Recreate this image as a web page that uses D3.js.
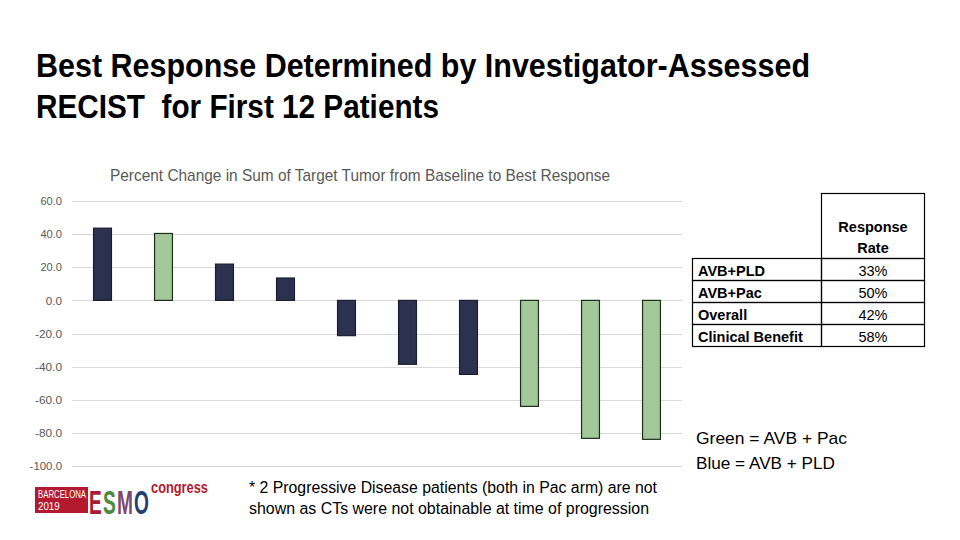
<!DOCTYPE html>
<html>
<head>
<meta charset="utf-8">
<script src="https://cdn.jsdelivr.net/npm/d3@7"></script>
<style>
  html, body { margin: 0; padding: 0; background: #fff; }
  svg { display: block; }
  .narrow { font-family: "Liberation Sans Narrow", "Arial Narrow", "Liberation Sans", Arial, sans-serif; }
  .sans { font-family: "Liberation Sans", Arial, sans-serif; }
</style>
</head>
<body>
<svg id="chart" width="960" height="540"></svg>
<script>
// ---------- data ----------
const patients = ["P1","P2","P3","P4","P5","P6","P7","P8","P9","P10"];
const arms = ["PLD","Pac","PLD","PLD","PLD","PLD","PLD","Pac","Pac","Pac"];
const pctChange = [43.6, 40.4, 21.9, 13.5, -21.3, -38.6, -44.7, -64.0, -83.3, -83.9];
const yTicks = [60, 40, 20, 0, -20, -40, -60, -80, -100];
const chartTitle = "Percent Change in Sum of Target Tumor from Baseline to Best Response";
const titleLines = ["Best Response Determined by Investigator-Assessed", "RECIST  for First 12 Patients"];
const tableHeader = ["Response", "Rate"];
const tableRows = ["AVB+PLD", "AVB+Pac", "Overall", "Clinical Benefit"];
const tableValues = ["33%", "50%", "42%", "58%"];
const legendLines = ["Green = AVB  + Pac", "Blue = AVB  + PLD"];
const footnoteLines = ["* 2 Progressive Disease patients (both in Pac arm) are not",
                       "shown as CTs were not obtainable at time of progression"];
const esmoLetters = ["E", "S", "M", "O"];

const armColor = { PLD: "#2c3150", Pac: "#a3c99b" };
const armStroke = { PLD: "#1b1e30", Pac: "#1d2e1d" };
const esmoColors = ["#a81d35", "#4a8a3c", "#7a4a6e", "#1f3f72"];

const svg = d3.select("#chart");

// ---------- slide title ----------
const tg = svg.append("g").attr("class", "narrow");
tg.selectAll("text").data(titleLines).join("text")
  .attr("x", 36)
  .attr("y", (d, i) => 77 + i * 40.5)
  .attr("font-size", 33)
  .attr("font-weight", "bold")
  .attr("fill", "#000")
  .attr("xml:space", "preserve")
  .attr("textLength", (d, i) => i === 0 ? 774 : 403)
  .attr("lengthAdjust", "spacingAndGlyphs")
  .text(d => d);

// ---------- chart ----------
const x = d3.scaleBand().domain(patients).range([72, 682]).paddingInner(0.69).paddingOuter(0.345);
const y = d3.scaleLinear().domain([-100, 60]).range([466, 201]);

svg.append("text").attr("class", "narrow")
  .attr("x", 360).attr("y", 181)
  .attr("text-anchor", "middle")
  .attr("font-size", 17)
  .attr("fill", "#595959")
  .attr("textLength", 500).attr("lengthAdjust", "spacingAndGlyphs")
  .text(chartTitle);

const grid = svg.append("g");
grid.selectAll("line").data(yTicks).join("line")
  .attr("x1", 72).attr("x2", 682)
  .attr("y1", d => Math.round(y(d)) + 0.5).attr("y2", d => Math.round(y(d)) + 0.5)
  .attr("stroke", "#d9d9d9").attr("stroke-width", 1);

const fmt = d => d.toFixed(1);
const yAxis = d3.axisLeft(y).tickValues(yTicks).tickFormat(fmt).tickSize(0).tickPadding(0);
const ya = svg.append("g").attr("transform", "translate(62,0)").call(yAxis);
ya.select(".domain").remove();
ya.selectAll("text").attr("class", "narrow").attr("font-size", 11.5).attr("fill", "#595959")
  .attr("textLength", d => fmt(d).length * 5.4).attr("lengthAdjust", "spacingAndGlyphs");

svg.append("g").selectAll("rect").data(pctChange).join("rect")
  .attr("x", (d, i) => x(patients[i]) + 0.5)
  .attr("width", x.bandwidth() - 1)
  .attr("y", d => y(Math.max(0, d)))
  .attr("height", d => Math.abs(y(d) - y(0)))
  .attr("fill", (d, i) => armColor[arms[i]])
  .attr("stroke", (d, i) => armStroke[arms[i]])
  .attr("stroke-width", 1.2);

// ---------- table ----------
const tbl = svg.append("g").attr("class", "sans");
const c0 = 692, c1 = 821.5, c2 = 924.5, hTop = 193.5, hBot = 258.5, rowH = 22;
tbl.append("rect").attr("x", c1).attr("y", hTop).attr("width", c2 - c1).attr("height", hBot - hTop)
  .attr("fill", "none").attr("stroke", "#000").attr("stroke-width", 1.2);
tbl.selectAll("text.hdr").data(tableHeader).join("text").attr("class", "hdr")
  .attr("x", (c1 + c2) / 2).attr("y", (d, i) => 232 + i * 21)
  .attr("text-anchor", "middle").attr("font-size", 14.5).attr("font-weight", "bold").text(d => d);
tableRows.forEach((r, i) => {
  const top = hBot + i * rowH;
  tbl.append("rect").attr("x", c0 + 0.5).attr("y", top).attr("width", c1 - c0 - 0.5).attr("height", rowH)
    .attr("fill", "none").attr("stroke", "#000").attr("stroke-width", 1.2);
  tbl.append("rect").attr("x", c1).attr("y", top).attr("width", c2 - c1).attr("height", rowH)
    .attr("fill", "none").attr("stroke", "#000").attr("stroke-width", 1.2);
  tbl.append("text").attr("x", 698).attr("y", top + 17).attr("font-size", 14.5)
    .attr("font-weight", "bold").text(r);
  tbl.append("text").attr("x", (c1 + c2) / 2).attr("y", top + 17).attr("font-size", 14.5)
    .attr("text-anchor", "middle").text(tableValues[i]);
});

// ---------- legend ----------
svg.append("g").attr("class", "sans").selectAll("text").data(legendLines).join("text")
  .attr("x", 696).attr("y", (d, i) => 444 + i * 25)
  .attr("font-size", 17).attr("fill", "#000")
  .attr("textLength", (d, i) => i === 0 ? 151 : 139).attr("lengthAdjust", "spacingAndGlyphs")
  .text(d => d);

// ---------- footnote ----------
svg.append("g").attr("class", "narrow").selectAll("text").data(footnoteLines).join("text")
  .attr("x", 249).attr("y", (d, i) => 493 + i * 21)
  .attr("font-size", 16).attr("fill", "#000")
  .attr("textLength", (d, i) => i === 0 ? 408 : 400).attr("lengthAdjust", "spacingAndGlyphs")
  .text(d => d);

// ---------- logo ----------
const logo = svg.append("g");
logo.append("rect").attr("x", 35).attr("y", 487).attr("width", 53).attr("height", 26).attr("fill", "#b3192f");
logo.append("text").attr("class", "narrow")
  .attr("transform", "translate(38,498) scale(0.78,1)").attr("font-size", 10)
  .attr("fill", "#fff").text("BARCELONA");
logo.append("text").attr("class", "narrow")
  .attr("transform", "translate(38,510) scale(0.85,1)").attr("font-size", 11.5)
  .attr("fill", "#fff").text("2019");
const letterX = [89, 103, 117, 134];
logo.selectAll("text.esmo").data(esmoLetters).join("text").attr("class", "esmo narrow")
  .attr("transform", (d, i) => `translate(${letterX[i]},514) scale(0.58,1)`)
  .attr("font-size", 33).attr("font-weight", "bold")
  .attr("fill", (d, i) => esmoColors[i])
  .text(d => d);
logo.append("text").attr("class", "narrow").attr("x", 151).attr("y", 493).attr("font-size", 17)
  .attr("font-weight", "bold").attr("fill", "#b3192f")
  .attr("textLength", 57).attr("lengthAdjust", "spacingAndGlyphs").text("congress");
</script>
</body>
</html>
